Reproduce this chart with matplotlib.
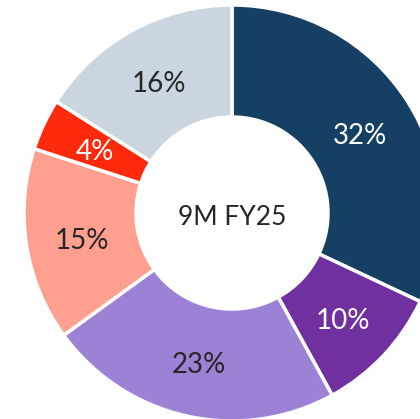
import matplotlib.pyplot as plt

shares = [32, 10, 23, 15, 4, 16]
labels = ['32%', '10%', '23%', '15%', '4%', '16%']
colors = ['#154063', '#7030A0', '#9B82D4', '#FF9F90', '#FF2A0C', '#CBD5DF']
text_colors = ['white', 'white', '#262626', '#262626', 'white', '#262626']
center_label = '9M FY25'

plt.rcParams['font.family'] = ['Lato', 'DejaVu Sans']

fig = plt.figure(figsize=(4.2, 4.19), dpi=100)
ax = fig.add_axes([0, 0, 1, 1])

R = 208
r_in = 96
cx, cy = 232, 419 - 213

wedges, texts = ax.pie(shares, colors=colors, startangle=90, counterclock=False,
                       radius=R, center=(cx, cy), labels=labels,
                       labeldistance=(R + r_in) / 2 / R,
                       wedgeprops=dict(width=R - r_in, edgecolor='white', linewidth=2.5),
                       textprops=dict(fontsize=20, ha='center', va='center'))
for t, c in zip(texts, text_colors):
    t.set_color(c)
    x, y = t.get_position()
    t.set_position((x, y - 4))

ax.text(cx, cy - 5, center_label, fontsize=19, color='#262626', ha='center', va='center')

ax.set_xlim(0, 420)
ax.set_ylim(0, 419)
ax.set_aspect('equal')
ax.axis('off')

fig.savefig('out.png', dpi=100)
